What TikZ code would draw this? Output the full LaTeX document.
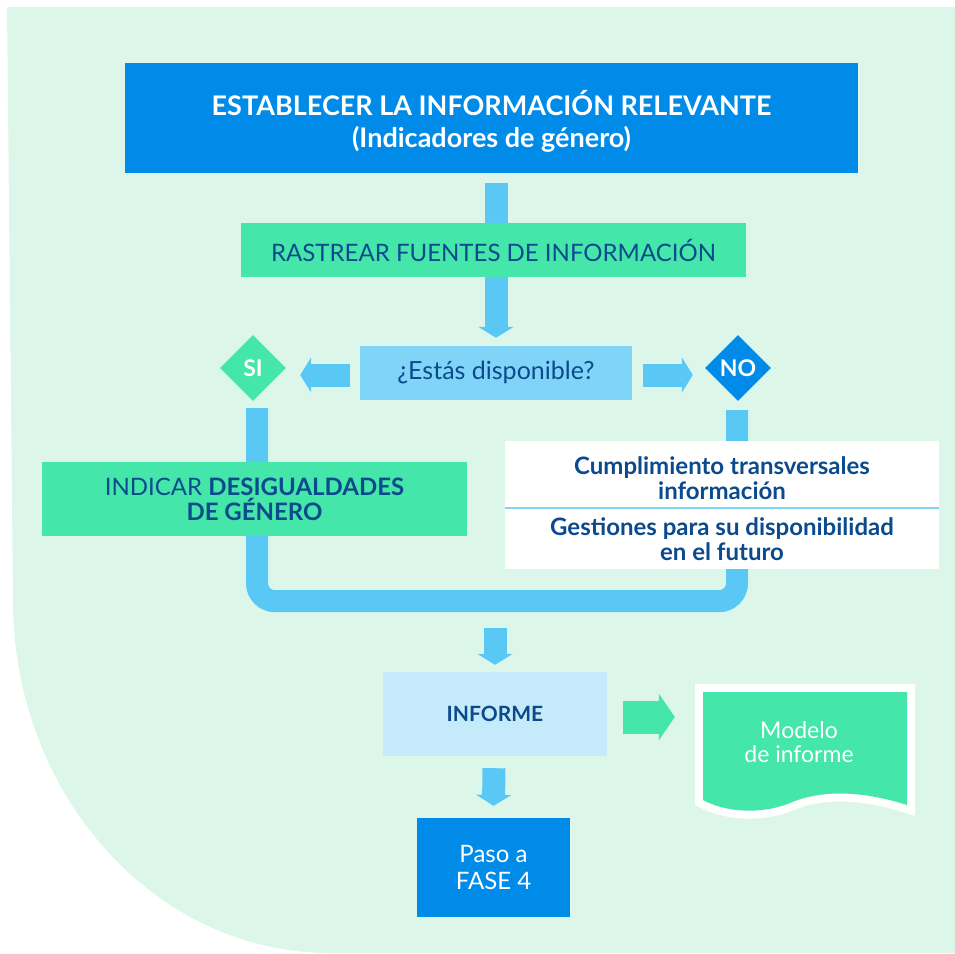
\documentclass[tikz,border=0pt]{standalone}
\usepackage{fontspec}
\setmainfont{Lato}
\usetikzlibrary{arrows.meta,shapes.geometric,calc}
\definecolor{fondo}{HTML}{DCF7EA}
\definecolor{azul}{HTML}{008BE8}
\definecolor{menta}{HTML}{45E6A9}
\definecolor{flecha}{HTML}{59C8F5}
\definecolor{celeste}{HTML}{80D4F7}
\definecolor{palido}{HTML}{C5EAF9}
\definecolor{marino}{HTML}{0B4A8C}
\begin{document}
\begin{tikzpicture}[x=1pt,y=-1pt,
    caja/.style={rectangle,inner sep=0pt,align=center,text=marino,font=\fontsize{24}{25}\selectfont},
    rombo/.style={diamond,inner sep=0pt,minimum width=66pt,minimum height=66pt,text=white,font=\fontsize{23}{22}\selectfont\bfseries},
    barra/.style={draw=flecha,line width=23pt,-{Triangle[width=35pt,length=11pt]}}]
  \useasboundingbox (0,0) rectangle (955,953);
  % fondo
  \fill[fondo] (7,7) -- (955,7) -- (955,953) -- (330,953)
    .. controls (155,953) and (13,795) .. (13,600) -- cycle;

  \node[caja,fill=azul,text=white,minimum width=733pt,minimum height=110pt] (top) at (491.5,118) {};
  \node[caja,text=white,font=\fontsize{27}{32}\selectfont\bfseries] (titulo) at (491.5,121)
    {ESTABLECER LA INFORMACIÓN RELEVANTE\\(Indicadores de género)};
  \node[caja,fill=celeste,minimum width=272pt,minimum height=54pt,
    font=\fontsize{25}{25}\selectfont] (disp) at (496,373) {¿Estás disponible?};
  \node[rombo,fill=menta] (si) at (253,368) {SI};
  \node[rombo,fill=azul] (no) at (738,368) {NO};

  \draw[barra] ($(disp.north |- top.south)+(0,10)$) -- ($(disp.north)+(0,-8)$);
  \node[caja,fill=menta,minimum width=505pt,minimum height=54pt] (rastrear) at (493.5,250)
    {RASTREAR FUENTES DE INFORMACIÓN};
  \draw[barra] ($(disp.west)+(-10,2)$) -- ($(si.east |- disp.west)+(14,2)$);
  \draw[barra] ($(disp.east)+(11,2)$) -- ($(no.west |- disp.east)+(-12,2)$);

  % union de ramas
  \draw[flecha,line width=22pt,rounded corners=18pt] ($(si.south)+(4,7)$) |- ($(no.south)+(-1,200)$)
    -- ($(no.south)+(-1,9)$);
  \coordinate (junta) at (495,612);

  \node[caja,fill=menta,minimum width=425pt,minimum height=74pt] (indicar) at (254.5,499)
    {INDICAR \textbf{DESIGUALDADES}\\\textbf{DE GÉNERO}};
  \node[caja,fill=white,minimum width=434pt,minimum height=128pt] (gestion) at (722,505) {};
  \draw[celeste,line width=2pt] (gestion.west |- 0,508) -- (gestion.east |- 0,508);
  \node[caja,font=\fontsize{24}{25}\selectfont\bfseries] (cumpl) at (722,478)
    {Cumplimiento transversales\\información};
  \node[caja,font=\fontsize{24}{25}\selectfont\bfseries] (futuro) at (722,539)
    {Gestiones para su disponibilidad\\en el futuro};

  \node[caja,fill=palido,minimum width=224pt,minimum height=84pt,
    font=\fontsize{21}{22}\selectfont\bfseries] (informe) at (495,714) {INFORME};
  \node[caja,fill=azul,text=white,minimum width=153pt,minimum height=99pt,
    font=\fontsize{24}{27}\selectfont] (paso) at (493.5,867.5)
    {Paso a\\FASE 4};
  \draw[barra] ($(junta)+(0,16)$) -- ($(informe.north)+(0,-7)$);
  \draw[barra] ($(informe.south)+(-1,12)$) -- ($(paso.north)+(0,-12)$);

  % hoja del modelo
  \fill[menta,preaction={draw=white,line width=16pt,line join=miter}]
    (703,692) -- (907,692) -- (907,805)
    .. controls (860,790) and (820,790) .. (790,803)
    .. controls (760,815) and (725,812) .. (703,800) -- cycle;
  \node[caja,text=white,font=\fontsize{23}{24}\selectfont,minimum width=204pt] (modelo) at (799,742)
    {Modelo\\de informe};
  \draw[draw=menta,line width=33pt,-{Triangle[width=46pt,length=16pt]}]
    ($(informe.east)+(16,3)$) -- ($(modelo.west)+(-22,-25)$);
\end{tikzpicture}
\end{document}
